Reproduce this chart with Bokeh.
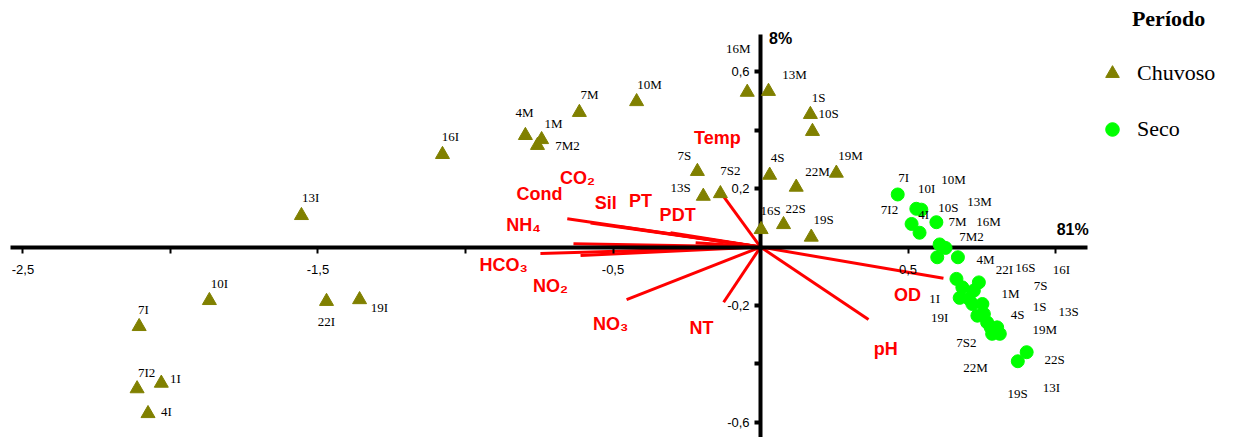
from bokeh.plotting import figure
from bokeh.models import Range1d, LinearAxis, FixedTicker, Label, Legend, LegendItem
from bokeh.core.properties import value
from bokeh.embed import file_html
from bokeh.resources import INLINE

# ---------------- data ----------------
chuvoso_labels = ["10I", "7I", "22I", "19I", "7I2", "1I", "4I", "13I", "16I", "4M", "1M", "7M2", "7M",
                  "10M", "7S", "13S", "16M", "13M", "1S", "10S", "4S", "22M", "19M", "7S2", "16S", "22S", "19S"]
chuvoso_x = [-1.868, -2.106, -1.471, -1.359, -2.113, -2.031, -2.076, -1.556, -1.078, -0.797, -0.742, -0.756, -0.614,
             -0.420, -0.214, -0.194, -0.045, 0.027, 0.169, 0.176, 0.031, 0.121, 0.257, -0.136, 0.002, 0.078, 0.172]
chuvoso_y = [-0.183, -0.272, -0.186, -0.180, -0.485, -0.466, -0.570, 0.108, 0.317, 0.382, 0.368, 0.348, 0.461,
             0.498, 0.259, 0.174, 0.530, 0.533, 0.454, 0.396, 0.246, 0.205, 0.253, 0.183, 0.060, 0.077, 0.034]
chuvoso_label_x = [-1.834, -2.092, -1.471, -1.292, -2.081, -1.983, -2.014, -1.525, -1.051, -0.800, -0.702, -0.654, -0.580,
                   -0.376, -0.258, -0.271, -0.075, 0.115, 0.197, 0.231, 0.058, 0.193, 0.305, -0.102, 0.034, 0.119, 0.214]
chuvoso_label_y = [-0.125, -0.214, -0.255, -0.207, -0.430, -0.450, -0.563, 0.170, 0.378, 0.461, 0.423, 0.348, 0.522,
                   0.556, 0.313, 0.204, 0.680, 0.591, 0.512, 0.457, 0.307, 0.259, 0.313, 0.262, 0.125, 0.132, 0.094]

seco_x = [0.465, 0.528, 0.545, 0.512, 0.539, 0.596, 0.607, 0.627, 0.599, 0.669, 0.664, 0.684, 0.675, 0.740,
          0.723, 0.718, 0.752, 0.735, 0.768, 0.785, 0.811, 0.802, 0.757, 0.902, 0.872, 0.706, 0.780]
seco_y = [0.180, 0.131, 0.128, 0.079, 0.049, 0.085, 0.009, -0.003, -0.035, -0.035, -0.109, -0.138, -0.174, -0.121,
          -0.149, -0.195, -0.195, -0.235, -0.258, -0.297, -0.297, -0.275, -0.229, -0.360, -0.391, -0.177, -0.275]
seco_labels = ["7I", "10I", "10M", "7I2", "4I", "10S", "13M", "7M", "16M", "7M2", "4M", "22I", "16S", "16I",
               "7S", "1M", "1I", "1S", "13S", "4S", "19I", "19M", "7S2", "22S", "22M", "13I", "19S"]
seco_label_x = [0.485, 0.563, 0.654, 0.437, 0.553, 0.637, 0.742, 0.668, 0.773, 0.715, 0.763, 0.827, 0.898, 1.020,
                0.949, 0.847, 0.590, 0.946, 1.044, 0.871, 0.607, 0.963, 0.698, 0.997, 0.729, 0.986, 0.871]
seco_label_y = [0.238, 0.200, 0.231, 0.129, 0.111, 0.135, 0.156, 0.087, 0.087, 0.036, -0.043, -0.077, -0.070, -0.077,
                -0.132, -0.159, -0.176, -0.204, -0.221, -0.231, -0.241, -0.283, -0.327, -0.385, -0.413, -0.481, -0.502]

variables = ["Temp", "CO₂", "Cond", "Sil", "PT", "PDT", "NH₄", "HCO₃", "NO₂", "NO₃", "NT", "pH", "OD"]
loading_x = [-0.136, -0.634, -0.576, -0.305, -0.220, -0.480, -0.655, -0.746, -0.610, -0.454, -0.125, 0.366, 0.620]
loading_y = [0.188, 0.011, 0.082, 0.049, 0.015, 0.070, 0.097, -0.022, -0.029, -0.180, -0.189, -0.248, -0.107]
variable_label_x = [-0.146, -0.620, -0.749, -0.525, -0.407, -0.281, -0.803, -0.871, -0.712, -0.508, -0.200, 0.424, 0.498]
variable_label_y = [0.375, 0.238, 0.180, 0.152, 0.159, 0.108, 0.077, -0.063, -0.132, -0.262, -0.276, -0.348, -0.163]

x_ticks_labeled = [-2.5, -1.5, -0.5, 0.5]
x_ticks_unlabeled = [-2.0, -1.0, 1.0]
y_ticks_labeled = [0.6, 0.2, -0.2, -0.6]
y_ticks_unlabeled = [0.4, -0.4]
x_axis_title = "81%"
y_axis_title = "8%"
legend_title = "Período"
group_names = ["Chuvoso", "Seco"]


def comma(v):
    return f"{v:g}".replace(".", ",")


# ---------------- figure ----------------
W, H = 1238, 437
p = figure(width=W, height=H, x_range=Range1d(-2.576, 1.620), y_range=Range1d(-0.652, 0.844),
           output_backend="svg", toolbar_location=None, min_border=0,
           x_axis_type=None, y_axis_type=None)
p.outline_line_color = None
p.background_fill_color = "white"

# loading vectors
p.segment(x0=0, y0=0, x1=loading_x, y1=loading_y, line_color="#ff0000", line_width=3)

# axes through the origin
xaxis = LinearAxis(fixed_location=0, bounds=(-2.542, 1.108),
                   ticker=FixedTicker(ticks=x_ticks_labeled, minor_ticks=x_ticks_unlabeled),
                   major_label_overrides={v: comma(v) for v in x_ticks_labeled},
                   axis_line_width=4, axis_line_color="black",
                   major_tick_in=0, major_tick_out=6, major_tick_line_width=2, major_tick_line_color="black",
                   minor_tick_in=0, minor_tick_out=6, minor_tick_line_width=2, minor_tick_line_color="black",
                   major_label_standoff=12,
                   major_label_text_font="Liberation Sans", major_label_text_font_size="13px",
                   major_label_text_color="black")
p.add_layout(xaxis, "below")

yaxis = LinearAxis(fixed_location=0, bounds=(-0.652, 0.728),
                   ticker=FixedTicker(ticks=y_ticks_labeled, minor_ticks=y_ticks_unlabeled),
                   major_label_overrides={v: comma(v) for v in y_ticks_labeled},
                   axis_line_width=4, axis_line_color="black",
                   major_tick_in=0, major_tick_out=6, major_tick_line_width=4, major_tick_line_color="black",
                   minor_tick_in=0, minor_tick_out=6, minor_tick_line_width=4, minor_tick_line_color="black",
                   major_label_standoff=5, major_label_orientation="horizontal",
                   major_label_text_font="Liberation Sans", major_label_text_font_size="13px",
                   major_label_text_color="black")
p.add_layout(yaxis, "left")

# points
r_ch = p.scatter(chuvoso_x, chuvoso_y, marker="triangle", size=14, fill_color="#808000",
                 line_color="#808000", level="overlay")
r_se = p.scatter(seco_x, seco_y, marker="circle", size=13, fill_color="#00ff00",
                 line_color="#00ff00", level="overlay")

# point labels
p.text(chuvoso_label_x, chuvoso_label_y, text=chuvoso_labels, text_align="center", text_baseline="middle",
       text_font=value("Liberation Serif"), text_font_size="13px", text_color="black", level="overlay")
p.text(seco_label_x, seco_label_y, text=seco_labels, text_align="center", text_baseline="middle",
       text_font=value("Liberation Serif"), text_font_size="13px", text_color="black", level="overlay")

# variable labels
p.text(variable_label_x, variable_label_y, text=variables, text_align="center", text_baseline="middle",
       text_font=value("Liberation Sans"), text_font_style="bold", text_font_size="18px",
       text_color="#ff0000", level="overlay")

# axis titles
p.add_layout(Label(x=1.058, y=0.06, text=x_axis_title, text_align="center", text_baseline="middle",
                   text_font="Liberation Sans", text_font_style="bold", text_font_size="16px",
                   text_color="black"))
p.add_layout(Label(x=0.068, y=0.714, text=y_axis_title, text_align="center", text_baseline="middle",
                   text_font="Liberation Sans", text_font_style="bold", text_font_size="16px",
                   text_color="black"))

# legend
p.add_layout(Label(x=1.383, y=0.782, text=legend_title, text_align="center", text_baseline="middle",
                   text_font="Liberation Serif", text_font_style="bold", text_font_size="22px",
                   text_color="black"))
legend = Legend(items=[LegendItem(label=group_names[0], renderers=[r_ch]),
                       LegendItem(label=group_names[1], renderers=[r_se])],
                location=(1095, 291), orientation="vertical",
                glyph_width=34, glyph_height=34, label_height=34, spacing=22,
                padding=0, margin=0, label_standoff=8,
                label_text_font="Liberation Serif", label_text_font_size="22px",
                label_text_color="black",
                border_line_color=None, background_fill_alpha=0)
p.add_layout(legend, "center")

open("out.html", "w").write(file_html(p, INLINE))
